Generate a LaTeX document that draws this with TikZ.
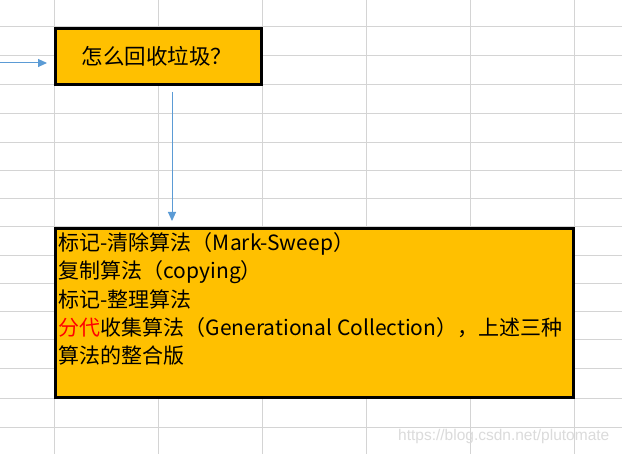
\documentclass[tikz,border=0pt]{standalone}
\usepackage{fontspec}
\setmainfont{Noto Sans CJK SC}
\newfontfamily\wmfont{Liberation Sans}
\usetikzlibrary{arrows.meta}
\definecolor{gridgray}{HTML}{D4D4D4}
\definecolor{boxorange}{HTML}{FFC000}
\definecolor{arrowblue}{HTML}{5B9BD5}
\tikzset{
  gridline/.style={draw=gridgray, line width=1pt},
  gcbox/.style={draw=black, line width=3pt, fill=boxorange, rectangle, inner sep=0pt},
  flow/.style={draw=arrowblue, line width=1pt, -{Triangle[length=9pt,width=8pt]}},
  bodytext/.style={inner sep=0pt, align=left, font=\fontsize{21}{28.3}\selectfont},
  wm/.style={inner sep=0pt, text=black!14, font=\wmfont\fontsize{15.5}{17}\selectfont}
}
\begin{document}
\begin{tikzpicture}[x=1pt,y=-1pt]
\useasboundingbox (0,0) rectangle (622,454);
\fill[white] (0,0) rectangle (622,454);
% spreadsheet grid
\foreach \gx in {54,158,262,366,470,574} \draw[gridline] (\gx,0) -- (\gx,454);
\foreach \gy in {27,56,85,114,142.5,170.5,198.5,227,256,284,312,340,369,398.5,428} \draw[gridline] (0,\gy) -- (622,\gy);
% boxes
\node[gcbox, minimum width=206pt, minimum height=56pt, font=\fontsize{21.5}{24}\selectfont] (b1) at (158.5,56.5) {\hspace*{-3pt}\raisebox{-2pt}{怎么回收垃圾？}};
\node[gcbox, minimum width=518pt, minimum height=169pt] (b2) at (314.5,313) {};
\node[bodytext, anchor=north west] (b2t) at (58.5,232.5) {标记-清除算法（Mark-Sweep）\\复制算法（copying）\\标记-整理算法\\\textcolor{red}{分代}收集算法（Generational Collection），上述三种\\算法的整合版};
% connectors
\coordinate (in) at (0,63);
\draw[flow, shorten >=7pt] (in) -- (in -| b1.west);
\draw[flow, shorten <=6pt, shorten >=6pt] ([xshift=13.5pt]b1.south) -- ([xshift=13.5pt]b1.south |- b2.north);
% watermark
\node[wm, anchor=west] (wmark) at (398,436) {https://blog.csdn.net/plutomate};
\end{tikzpicture}
\end{document}
